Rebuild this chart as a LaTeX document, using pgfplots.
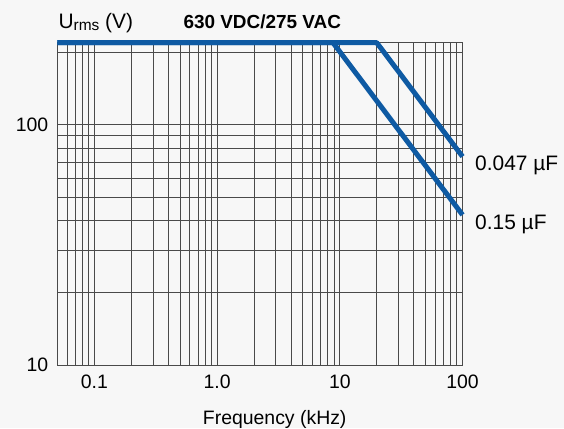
\documentclass[border=0pt]{standalone}
\usepackage{pgfplots}
\pgfplotsset{compat=1.18}
\usepackage{fontspec}
\setmainfont{Liberation Sans}
\definecolor{bg}{HTML}{F7F7F7}
\definecolor{curve}{HTML}{0E5AA3}
\definecolor{gridc}{HTML}{4A4A4A}

\begin{document}
\begin{tikzpicture}[x=1bp,y=1bp]
  \fill[bg] (0,0) rectangle (564,428);
  \useasboundingbox (0,0) rectangle (564,428);
  \begin{axis}[
      at={(57.5bp,63bp)}, anchor=south west,
      scale only axis,
      width=405bp, height=322.3bp,
      xmode=log, ymode=log,
      xmin=0.05, xmax=100,
      ymin=10, ymax=220,
      xtick={0.1,1,10,100},
      xticklabels={0.1,1.0,10,100},
      ytick={10,100},
      yticklabels={10,100},
      minor xtick={0.06,0.07,0.08,0.09,0.2,0.3,0.4,0.5,0.6,0.7,0.8,0.9,2,3,4,5,6,7,8,9,20,30,40,50,60,70,80,90},
      minor ytick={20,30,40,50,60,70,80,90,200},
      grid=both,
      major grid style={draw=gridc, line width=0.9bp},
      minor grid style={draw=gridc, line width=0.9bp},
      axis line style={draw=gridc, line width=0.9bp},
      major tick length=0pt, minor tick length=0pt,
      tick label style={font=\fontsize{19.5}{22}\selectfont, inner sep=0pt},
      xticklabel style={yshift=-10bp},
      yticklabel style={xshift=-9bp},
      clip=false,
    ]
    % 0.15 uF
    \addplot[curve, line width=5bp, line join=round] coordinates {
      (0.05,220) (8.8,220) (100,42.2)
    };
    % 0.047 uF
    \addplot[curve, line width=5bp, line join=round] coordinates {
      (0.05,220) (20,220) (100,73.8)
    };
  \end{axis}
  \node[anchor=west, inner sep=0pt, font=\fontsize{21}{24}\selectfont] at (475,262.5) {0.047 µF};
  \node[anchor=west, inner sep=0pt, font=\fontsize{21}{24}\selectfont] at (475,204) {0.15 µF};
  \node[anchor=base west, inner sep=0pt, font=\fontsize{21}{24}\selectfont] at (58.3,399.7) {U\raisebox{-2.5bp}{\fontsize{15.5}{18}\selectfont rms} (V)};
  \node[anchor=base west, inner sep=0pt, font=\fontsize{19}{22}\selectfont\bfseries] at (183.3,399.7) {630 VDC/275 VAC};
  \node[anchor=base, inner sep=0pt, font=\fontsize{19.5}{22}\selectfont] at (274.7,4) {Frequency (kHz)};
\end{tikzpicture}
\end{document}
